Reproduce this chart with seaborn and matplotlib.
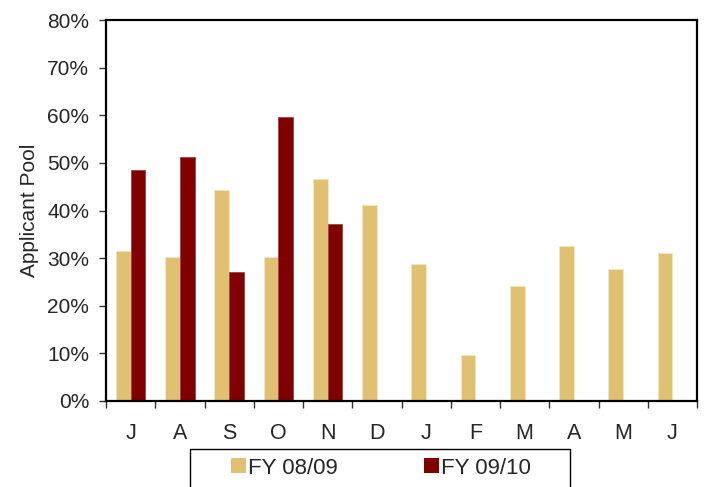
import matplotlib
matplotlib.use("Agg")
import matplotlib.pyplot as plt
import seaborn as sns
import numpy as np
import pandas as pd
from matplotlib.patches import Rectangle
from matplotlib.ticker import FixedLocator, PercentFormatter

months = ["Jul", "Aug", "Sep", "Oct", "Nov", "Dec", "Jan", "Feb", "Mar", "Apr", "May", "Jun"]
tick_labels = ["J", "A", "S", "O", "N", "D", "J", "F", "M", "A", "M", "J"]
series_names = ["FY 08/09", "FY 09/10"]
fy0809 = [31.5, 30.2, 44.2, 30.2, 46.6, 41.2, 28.8, 9.6, 24.1, 32.6, 27.8, 31.1]
fy0910 = [48.6, 51.3, 27.0, 59.6, 37.1, np.nan, np.nan, np.nan, np.nan, np.nan, np.nan, np.nan]
colors = ["#DFC171", "#800000"]

df = pd.DataFrame({
    "month": months * 2,
    "series": [series_names[0]] * 12 + [series_names[1]] * 12,
    "value": fy0809 + fy0910,
}).dropna()

sns.set_theme(style="white")
plt.rcParams["font.family"] = ["Liberation Sans", "DejaVu Sans"]

fig = plt.figure(figsize=(7.06, 4.87), dpi=100)
ax = fig.add_axes([106 / 706, 1 - 401 / 487, (697 - 106) / 706, (401 - 20) / 487])

sns.barplot(data=df, x="month", y="value", hue="series", order=months,
            hue_order=series_names, palette=colors, width=0.6,
            errorbar=None, ax=ax, legend=False, saturation=1,
            edgecolor="#F3E6C0", linewidth=0.6)
for patch in ax.patches:
    if np.allclose(patch.get_facecolor()[:3], matplotlib.colors.to_rgb(colors[1])):
        patch.set_edgecolor("#A04040")

ax.set_xlim(-0.5, 11.5)
ax.set_ylim(0, 80)
ax.set_yticks(np.arange(0, 81, 10))
ax.yaxis.set_major_formatter(PercentFormatter(decimals=0))
ax.set_ylabel("Applicant Pool", fontsize=15, labelpad=6)
ax.set_xlabel("")

ax.xaxis.set_major_locator(FixedLocator(np.arange(-0.5, 12, 1)))
ax.xaxis.set_minor_locator(FixedLocator(np.arange(0, 12, 1)))
ax.set_xticklabels([], minor=False)
ax.set_xticklabels(tick_labels, minor=True)
ax.tick_params(axis="x", which="major", direction="out", length=5, width=1, color="#333333", bottom=True)
ax.tick_params(axis="x", which="minor", length=0, pad=16, labelsize=15.5, bottom=True)
ax.tick_params(axis="y", direction="out", length=5, width=1, color="#333333", pad=7, labelsize=15, left=True)

for s in ax.spines.values():
    s.set_visible(True)
    s.set_color("black")
    s.set_linewidth(1.6)
ax.grid(False)

# legend frame (extends beyond bottom edge as in reference)
fig.patches.append(Rectangle((190 / 706, -0.05), (570 - 190) / 706, 0.05 + (487 - 449) / 487,
                             transform=fig.transFigure, fill=False, edgecolor="black",
                             linewidth=1.0, figure=fig))
handles = [Rectangle((0, 0), 1, 1, facecolor=c, edgecolor="none") for c in colors]
fig.legend(handles, series_names, loc="center", bbox_to_anchor=(381 / 706, 1 - 468 / 487),
           ncol=2, frameon=False, fontsize=16, handlelength=0.68, handleheight=0.68,
           handletextpad=0.1, columnspacing=3.85, borderpad=0)

fig.savefig("out.png", dpi=100)
